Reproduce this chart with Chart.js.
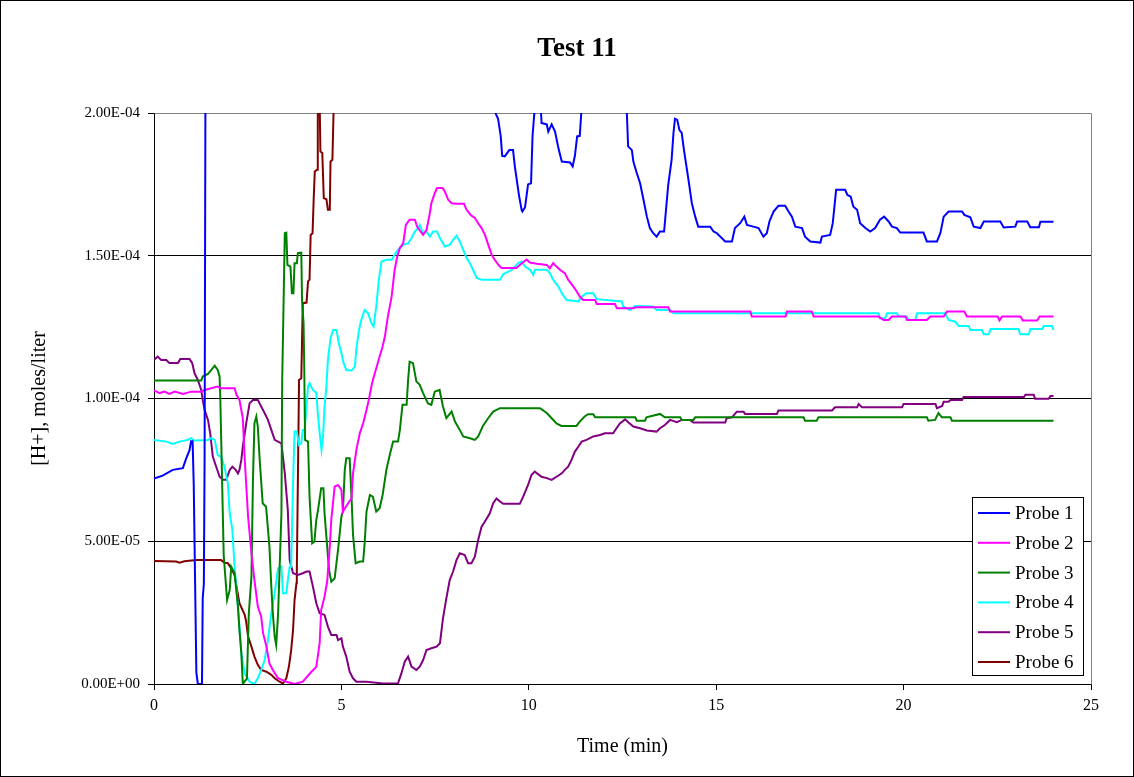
<!DOCTYPE html>
<html>
<head>
<meta charset="utf-8">
<script src="https://cdn.jsdelivr.net/npm/chart.js@4.4.1/dist/chart.umd.min.js"></script>
<style>
  html, body { margin: 0; padding: 0; background: #ffffff; }
  #wrap { width: 1134px; height: 777px; }
</style>
</head>
<body>
<div id="wrap"><canvas id="c" width="1134" height="777"></canvas></div>
<script>
// ---- DATA (time in minutes, [H+] in units of 1e-5 moles/liter) ----
const UNIT = 1e-5;
const seriesNames = ['Probe 1', 'Probe 2', 'Probe 3', 'Probe 4', 'Probe 5', 'Probe 6'];
const xTickLabels = [0, 5, 10, 15, 20, 25];
const yTickValues = [0, 5e-5, 1e-4, 1.5e-4, 2e-4];

const probe1 = [[0,7.2],[0.23,7.3],[0.5,7.5],[0.77,7.56],[0.86,7.9],[0.95,8.2],[0.99,8.5],[1.03,8.5],[1.06,7.0],[1.13,0.4],[1.17,0],[1.28,0],[1.30,3.0],[1.33,3.5],[1.35,8],[1.38,25],[1.40,30],[9.05,21],[9.11,20],
 [9.18,19.8],[9.25,19.2],[9.29,18.5],[9.36,18.48],[9.48,18.7],[9.58,18.7],[9.63,18.1],[9.74,17.1],[9.81,16.6],[9.83,16.55],[9.90,16.7],[9.98,17.5],[10.06,17.54],[10.10,19.2],[10.16,20.2],[10.24,21],[10.32,20.2],
 [10.34,19.65],[10.48,19.6],[10.52,19.35],[10.61,19.6],[10.70,19.35],[10.79,18.77],[10.88,18.3],[11.10,18.27],[11.17,18.13],[11.23,18.5],[11.29,19.18],[11.36,19.2],[11.41,20.2],[11.6,23],[12.4,23],[12.61,20.2],
 [12.65,18.83],[12.75,18.7],[12.79,18.3],[12.88,17.9],[12.97,17.54],[13.06,16.96],[13.15,16.37],[13.23,15.97],[13.32,15.79],[13.41,15.67],[13.50,15.85],[13.61,15.85],[13.66,16.6],[13.72,17.48],[13.81,18.36],
 [13.86,19.3],[13.90,19.8],[13.96,19.76],[14.02,19.4],[14.08,19.3],[14.14,18.7],[14.21,18.1],[14.28,17.48],[14.35,16.84],[14.44,16.37],[14.52,16.02],[14.84,16.02],[14.93,15.85],[15.02,15.79],[15.24,15.5],
 [15.42,15.5],[15.50,15.97],[15.64,16.14],[15.75,16.37],[15.82,16.08],[15.99,16.02],[16.13,15.97],[16.26,15.67],[16.35,15.79],[16.42,16.2],[16.53,16.55],[16.66,16.75],[16.84,16.75],[16.93,16.55],[17.02,16.37],
 [17.11,16.02],[17.29,15.97],[17.37,15.67],[17.51,15.5],[17.78,15.46],[17.82,15.67],[18.04,15.73],[18.11,16.14],[18.20,17.31],[18.44,17.31],[18.50,17.13],[18.59,17.07],[18.66,16.72],[18.76,16.61],[18.84,16.14],
 [18.98,15.97],[19.11,15.85],[19.24,15.97],[19.37,16.26],[19.48,16.37],[19.60,16.2],[19.69,16.02],[19.82,15.97],[19.91,15.81],[20.53,15.81],[20.62,15.5],[20.89,15.5],[20.98,15.79],[21.07,16.37],[21.20,16.55],
 [21.56,16.55],[21.62,16.43],[21.78,16.35],[21.87,16.02],[22.05,15.97],[22.14,16.2],[22.58,16.2],[22.67,15.99],[22.98,16.02],[23.03,16.2],[23.30,16.2],[23.38,16.0],[23.61,16.0],[23.65,16.19],[24.0,16.19]];

const probe2 = [[0,10.28],[0.15,10.19],[0.28,10.24],[0.41,10.16],[0.55,10.24],[0.77,10.16],[0.99,10.24],[1.26,10.24],[1.35,10.3],[1.70,10.42],[1.79,10.36],[2.15,10.36],[2.20,10.13],[2.28,9.95],[2.37,9.3],
 [2.42,7.9],[2.51,5.86],[2.60,4.58],[2.68,3.64],[2.77,2.71],[2.86,2.36],[2.91,1.78],[3.00,1.31],[3.08,0.72],[3.17,0.49],[3.31,0.20],[3.53,0.08],[3.75,0],[3.97,0.08],[4.20,0.43],[4.33,0.6],[4.42,1.43],
 [4.46,2.59],[4.55,3.06],[4.62,3.58],[4.69,4.81],[4.73,5.75],[4.82,6.91],[4.91,6.97],[5.00,6.8],[5.04,6.04],[5.18,6.33],[5.27,6.5],[5.31,7.38],[5.40,8.2],[5.49,8.78],[5.58,9.13],[5.67,9.6],[5.74,10.01],
 [5.80,10.42],[5.84,10.65],[5.93,11.06],[6.02,11.47],[6.10,11.82],[6.16,12.17],[6.24,12.87],[6.34,13.57],[6.42,14.5],[6.49,14.97],[6.56,15.27],[6.65,15.44],[6.72,16.08],[6.82,16.26],[6.96,16.26],[7.02,16.02],
 [7.11,15.85],[7.18,15.73],[7.27,15.9],[7.36,16.49],[7.40,16.84],[7.49,17.19],[7.55,17.37],[7.70,17.37],[7.76,17.25],[7.85,16.96],[7.94,16.84],[8.07,16.82],[8.27,16.82],[8.34,16.61],[8.45,16.43],[8.56,16.32],
 [8.65,16.14],[8.74,15.97],[8.83,15.73],[8.92,15.38],[9.01,15.03],[9.09,14.86],[9.18,14.7],[9.27,14.57],[9.67,14.57],[9.76,14.68],[9.94,14.87],[10.03,14.76],[10.21,14.72],[10.48,14.68],[10.56,14.56],[10.65,14.74],
 [10.74,14.62],[10.83,14.51],[10.96,14.39],[11.05,14.16],[11.19,13.92],[11.28,13.75],[11.36,13.57],[11.45,13.45],[11.77,13.45],[11.81,13.31],[12.30,13.31],[12.35,13.16],[12.79,13.16],[12.88,13.2],[13.72,13.2],
 [13.77,13.05],[15.91,13.05],[15.95,12.87],[16.85,12.87],[16.89,13.05],[17.55,13.05],[17.60,12.87],[19.33,12.87],[19.47,12.75],[19.60,12.75],[19.69,12.87],[20.05,12.87],[20.09,12.75],[20.62,12.75],[20.71,12.87],
 [21.07,12.87],[21.16,13.05],[21.62,13.05],[21.69,12.87],[22.51,12.87],[22.56,12.73],[22.63,12.87],[23.12,12.87],[23.18,12.73],[23.56,12.73],[23.63,12.87],[24.0,12.87]];

const probe3 = [[0,10.63],[1.26,10.63],[1.30,10.77],[1.44,10.86],[1.53,11.0],[1.62,11.15],[1.70,11.0],[1.75,10.77],[1.77,9.95],[1.86,4.5],[1.95,2.94],[2.02,3.29],[2.06,4.11],[2.15,3.88],[2.24,2.71],
 [2.28,1.89],[2.33,1.08],[2.37,0],[2.48,0.2],[2.53,2.48],[2.60,3.76],[2.64,7.15],[2.68,9.13],[2.73,9.37],[2.77,9.02],[2.82,7.85],[2.90,6.33],[2.99,6.21],[3.08,4.81],[3.13,3.41],[3.17,2.48],[3.22,1.66],
 [3.26,1.37],[3.31,2.42],[3.40,5.98],[3.42,10.6],[3.49,15.79],[3.53,15.81],[3.56,14.68],[3.64,14.62],[3.68,13.69],[3.72,13.69],[3.75,14.74],[3.81,14.74],[3.84,15.09],[3.93,15.11],[3.95,13.45],[3.99,12.64],
 [4.01,11],[4.03,8.55],[4.11,8.49],[4.15,6.56],[4.22,4.93],[4.28,4.99],[4.33,5.75],[4.37,6.04],[4.46,6.86],[4.52,6.86],[4.55,5.98],[4.67,3.99],[4.73,3.58],[4.82,3.7],[4.91,4.7],[5.00,5.86],[5.04,6.04],
 [5.09,7.5],[5.13,7.91],[5.22,7.91],[5.27,6.56],[5.31,5.22],[5.38,4.23],[5.49,4.29],[5.58,4.29],[5.62,4.93],[5.67,6.04],[5.76,6.62],[5.84,6.56],[5.93,6.04],[6.02,6.16],[6.10,6.62],[6.20,7.5],[6.29,8.02],
 [6.38,8.49],[6.51,8.49],[6.56,8.9],[6.63,9.78],[6.74,9.78],[6.78,10.65],[6.82,11.29],[6.91,11.24],[7.00,10.6],[7.09,10.48],[7.18,10.19],[7.31,9.83],[7.40,9.78],[7.49,10.24],[7.62,10.3],[7.71,9.72],
 [7.80,9.31],[7.94,9.54],[8.03,9.19],[8.16,8.9],[8.25,8.67],[8.43,8.61],[8.56,8.55],[8.65,8.67],[8.78,9.05],[8.91,9.3],[9.05,9.54],[9.23,9.66],[10.30,9.66],[10.48,9.49],[10.61,9.31],[10.74,9.13],[10.87,9.04],
 [11.27,9.04],[11.36,9.19],[11.49,9.37],[11.58,9.45],[11.72,9.45],[11.77,9.34],[12.84,9.34],[12.88,9.22],[13.10,9.22],[13.14,9.34],[13.50,9.46],[13.63,9.34],[14.04,9.34],[14.08,9.25],[14.39,9.25],[14.44,9.34],
 [17.33,9.34],[17.37,9.22],[17.68,9.22],[17.73,9.34],[20.62,9.34],[20.66,9.22],[20.84,9.25],[20.93,9.49],[21.02,9.34],[21.25,9.34],[21.29,9.22],[24.0,9.22]];

const probe4 = [[0,8.55],[0.33,8.49],[0.50,8.41],[0.68,8.49],[0.90,8.55],[0.99,8.61],[1.08,8.53],[1.44,8.55],[1.53,8.61],[1.62,8.55],[1.70,8.02],[1.79,7.96],[1.88,7.61],[1.97,7.03],[2.02,5.98],[2.09,5.4],
 [2.15,4.11],[2.24,2.71],[2.33,1.08],[2.42,0.37],[2.55,0.08],[2.68,0],[2.77,0.2],[2.86,0.49],[2.95,0.82],[3.04,1.54],[3.13,2.48],[3.22,3.18],[3.31,4.05],[3.40,4.11],[3.44,3.18],[3.53,3.18],[3.57,3.64],
 [3.62,4.11],[3.66,4.11],[3.71,7.03],[3.75,8.84],[3.81,8.84],[3.87,8.37],[3.93,8.43],[3.97,8.9],[4.02,8.9],[4.11,10.42],[4.15,10.54],[4.24,10.3],[4.33,10.2],[4.37,9.49],[4.42,8.78],[4.47,8.2],[4.51,8.67],
 [4.55,9.72],[4.60,10.42],[4.64,11.35],[4.71,12.11],[4.78,12.4],[4.87,12.4],[4.93,11.94],[5.00,11.59],[5.06,11.24],[5.13,11.0],[5.27,10.98],[5.36,11.12],[5.40,11.76],[5.47,12.4],[5.53,12.75],[5.62,13.1],
 [5.71,12.99],[5.80,12.64],[5.86,12.52],[5.93,13.22],[6.00,14.16],[6.07,14.8],[6.20,14.86],[6.34,14.86],[6.42,15.03],[6.51,15.21],[6.65,15.38],[6.78,15.44],[6.87,15.62],[6.96,15.85],[7.05,15.97],[7.09,16.08],
 [7.18,15.79],[7.27,15.85],[7.36,15.67],[7.45,15.85],[7.55,15.85],[7.63,15.62],[7.76,15.32],[7.89,15.38],[7.98,15.56],[8.07,15.7],[8.16,15.5],[8.25,15.21],[8.34,14.92],[8.43,14.74],[8.51,14.51],[8.61,14.22],
 [8.74,14.16],[9.23,14.16],[9.32,14.36],[9.54,14.5],[9.72,14.74],[9.81,14.8],[9.90,14.62],[10.03,14.51],[10.12,14.33],[10.16,14.51],[10.48,14.51],[10.56,14.39],[10.65,14.16],[10.79,13.92],[10.88,13.69],
 [11.01,13.45],[11.32,13.4],[11.41,13.57],[11.54,13.69],[11.72,13.69],[11.81,13.48],[12.48,13.4],[12.52,13.22],[12.70,13.1],[12.83,13.24],[13.32,13.22],[13.41,13.1],[13.77,13.1],[13.86,12.99],[19.33,12.99],
 [19.37,12.81],[19.51,12.81],[19.56,12.99],[19.82,12.99],[19.87,12.87],[20.09,12.87],[20.13,12.75],[20.31,12.75],[20.36,12.99],[21.11,12.99],[21.20,12.75],[21.38,12.69],[21.47,12.54],[21.74,12.54],[21.78,12.4],
 [22.09,12.4],[22.14,12.25],[22.27,12.25],[22.32,12.43],[23.07,12.43],[23.11,12.25],[23.34,12.25],[23.38,12.43],[23.70,12.43],[23.74,12.54],[23.96,12.54],[24.0,12.4]];

const probe5 = [[0,11.35],[0.10,11.47],[0.19,11.35],[0.33,11.35],[0.41,11.24],[0.64,11.24],[0.70,11.38],[0.95,11.38],[1.02,11.24],[1.08,10.89],[1.17,10.65],[1.26,10.3],[1.30,9.95],[1.35,9.6],[1.44,9.25],
 [1.50,8.78],[1.57,7.96],[1.66,7.61],[1.75,7.26],[1.84,7.15],[1.93,7.15],[2.02,7.5],[2.09,7.61],[2.18,7.5],[2.24,7.38],[2.28,7.5],[2.33,7.85],[2.37,8.31],[2.46,9.13],[2.55,9.83],[2.64,9.95],[2.77,9.95],
 [2.86,9.72],[2.95,9.49],[3.04,9.25],[3.13,8.9],[3.22,8.55],[3.31,8.49],[3.40,8.43],[3.49,7.38],[3.57,6.1],[3.62,4.34],[3.71,3.88],[3.84,3.82],[3.97,3.88],[4.07,3.94],[4.15,3.94],[4.24,3.41],[4.33,2.83],
 [4.42,2.48],[4.55,2.42],[4.64,2.01],[4.73,1.72],[4.87,1.72],[4.91,1.54],[5.00,1.6],[5.04,1.31],[5.13,0.96],[5.22,0.43],[5.31,0.2],[5.40,0.08],[5.67,0.08],[6.11,0.02],[6.51,0.02],[6.60,0.37],[6.69,0.78],
 [6.78,0.96],[6.87,0.61],[7.00,0.49],[7.09,0.61],[7.18,0.84],[7.27,1.19],[7.40,1.25],[7.54,1.31],[7.63,1.43],[7.71,2.3],[7.80,3.0],[7.89,3.64],[7.98,3.94],[8.07,4.34],[8.16,4.58],[8.29,4.52],[8.38,4.23],
 [8.47,4.23],[8.56,4.46],[8.65,5.05],[8.74,5.51],[8.83,5.69],[8.96,5.98],[9.05,6.33],[9.14,6.5],[9.23,6.39],[9.32,6.31],[9.76,6.31],[9.85,6.56],[9.98,6.97],[10.07,7.32],[10.16,7.44],[10.34,7.26],[10.48,7.21],
 [10.61,7.15],[10.74,7.26],[10.88,7.38],[10.96,7.5],[11.05,7.61],[11.14,7.85],[11.23,8.14],[11.32,8.31],[11.41,8.49],[11.54,8.55],[11.72,8.67],[11.90,8.72],[12.03,8.78],[12.25,8.78],[12.34,8.96],[12.43,9.13],
 [12.57,9.27],[12.66,9.16],[12.79,9.02],[12.97,8.96],[13.15,8.88],[13.41,8.84],[13.50,8.96],[13.63,9.07],[13.77,9.25],[13.95,9.17],[14.08,9.25],[14.30,9.25],[14.39,9.16],[15.24,9.16],[15.28,9.31],[15.42,9.34],
 [15.55,9.54],[15.73,9.54],[15.77,9.46],[16.62,9.46],[16.66,9.58],[18.09,9.58],[18.17,9.69],[18.76,9.69],[18.80,9.81],[18.89,9.69],[19.96,9.69],[20.00,9.81],[20.85,9.81],[20.89,9.66],[21.03,9.74],[21.07,9.89],
 [21.20,9.89],[21.25,9.95],[21.56,9.95],[21.60,10.05],[23.21,10.05],[23.25,10.13],[23.47,10.13],[23.51,9.99],[23.87,9.99],[23.92,10.09],[24.0,10.09]];

const probe6 = [[0,4.31],[0.59,4.29],[0.68,4.25],[0.81,4.3],[1.13,4.34],[1.79,4.34],[1.88,4.25],[1.97,4.23],[2.06,4.05],[2.15,3.82],[2.21,3.35],[2.28,2.83],[2.42,2.42],[2.46,2.18],[2.51,1.66],[2.60,1.31],
 [2.68,0.96],[2.77,0.67],[2.86,0.49],[3.00,0.43],[3.13,0.32],[3.22,0.2],[3.35,0.08],[3.44,0.02],[3.53,0.2],[3.60,0.61],[3.66,1.19],[3.71,1.89],[3.75,2.94],[3.80,3.53],[3.81,3.88],[3.87,10.65],[3.93,10.71],
 [3.97,13.34],[4.07,13.36],[4.11,14.1],[4.15,14.16],[4.18,15.73],[4.23,15.79],[4.26,16.96],[4.29,17.95],[4.35,18.01],[4.37,20],[4.40,22],[4.44,18.65],[4.49,18.6],[4.53,17.02],[4.60,16.98],[4.64,16.61],
 [4.69,16.61],[4.71,18.3],[4.76,18.36],[4.79,20],[4.85,30]];

const seriesData = [probe1, probe2, probe3, probe4, probe5, probe6];
const seriesColors = ['#0000FF', '#FF00FF', '#008000', '#00FFFF', '#800080', '#800000'];

// ---- helpers ----
function sci(v) {
  if (Math.abs(v) < 1e-12) return '0.00E+00';
  let e = Math.floor(Math.log10(Math.abs(v)) + 1e-9);
  let m = v / Math.pow(10, e);
  if (Math.round(m * 100) / 100 >= 10) { m /= 10; e++; }
  return m.toFixed(2) + 'E' + (e < 0 ? '-' : '+') + String(Math.abs(e)).padStart(2, '0');
}

const FONT = "'Liberation Serif', 'Times New Roman', serif";

const frame = {
  id: 'frame',
  beforeDatasetsDraw(chart) {
    const { ctx, chartArea: a } = chart;
    ctx.save();
    ctx.strokeStyle = '#808080';
    ctx.lineWidth = 1;
    ctx.beginPath();
    ctx.moveTo(Math.round(a.left) + 0.5, Math.round(a.top) + 0.5);
    ctx.lineTo(Math.round(a.right) + 0.5, Math.round(a.top) + 0.5);
    ctx.lineTo(Math.round(a.right) + 0.5, Math.round(a.bottom) + 0.5);
    ctx.stroke();
    ctx.restore();
  },
  afterDraw(chart) {
    const { ctx } = chart;
    ctx.save();
    ctx.strokeStyle = '#000000';
    ctx.lineWidth = 1;
    ctx.strokeRect(0.5, 0.5, chart.width - 1, chart.height - 1);
    // legend
    const bx = 972.5, by = 497.5, bw = 111, bh = 178;
    ctx.fillStyle = '#ffffff';
    ctx.fillRect(bx, by, bw, bh);
    ctx.strokeRect(bx, by, bw, bh);
    ctx.font = '19px ' + FONT;
    ctx.textBaseline = 'middle';
    ctx.textAlign = 'left';
    chart.data.datasets.forEach((ds, i) => {
      if (!ds.label) return;
      const y = 513 + i * 29.8;
      ctx.strokeStyle = ds.borderColor;
      ctx.lineWidth = 2;
      ctx.beginPath();
      ctx.moveTo(978, y);
      ctx.lineTo(1010, y);
      ctx.stroke();
      ctx.fillStyle = '#000000';
      ctx.fillText(ds.label, 1015, y + 1);
    });
    ctx.restore();
  }
};

new Chart(document.getElementById('c'), {
  type: 'line',
  data: {
    datasets: seriesNames.map((name, i) => ({
      label: name,
      data: seriesData[i].map(p => ({ x: p[0], y: p[1] * UNIT })),
      borderColor: seriesColors[i],
      backgroundColor: seriesColors[i],
      borderWidth: 2,
      pointRadius: 0,
      tension: 0,
      fill: false,
      yAxisID: 'y'
    }))
  },
  options: {
    responsive: false,
    animation: false,
    devicePixelRatio: 1,
    layout: { padding: { left: 20, right: 0, top: 0, bottom: 10 } },
    plugins: {
      legend: { display: false },
      tooltip: { enabled: false },
      title: {
        display: true,
        text: 'Test 11',
        color: '#000000',
        font: { family: FONT, size: 27, weight: 'bold', lineHeight: 1.2 },
        padding: { top: 33, bottom: 47.6 }
      }
    },
    scales: {
      x: {
        type: 'linear',
        min: 0, max: 25,
        afterFit(scale) { scale.height = 83; },
        afterBuildTicks(scale) { scale.ticks = xTickLabels.map(v => ({ value: v })); },
        ticks: { color: '#000000', font: { family: FONT, size: 16 }, padding: 6, maxRotation: 0, autoSkip: false },
        grid: { drawOnChartArea: false, drawTicks: true, tickLength: 6, color: '#000000', tickColor: '#000000' },
        border: { display: true, color: '#000000', width: 1 },
        title: { display: true, text: 'Time (min)', color: '#000000', font: { family: FONT, size: 20 }, padding: { top: 0, bottom: 8 } }
      },
      y: {
        type: 'linear',
        position: 'left',
        min: 0, max: 2e-4,
        afterFit(scale) { scale.width = 134; },
        afterBuildTicks(scale) { scale.ticks = yTickValues.map(v => ({ value: v })); },
        ticks: { color: '#000000', font: { family: FONT, size: 15 }, padding: 8, callback: v => sci(v) },
        grid: { drawOnChartArea: true, drawTicks: true, tickLength: 6, color: '#000000', tickColor: '#000000' },
        border: { display: true, color: '#000000', width: 1 },
        title: { display: true, text: '[H+], moles/liter', color: '#000000', font: { family: FONT, size: 20 }, padding: { top: 8, bottom: 0 } }
      },
      yRight: {
        type: 'linear',
        position: 'right',
        min: 0, max: 2e-4,
        afterFit(scale) { scale.width = 43; },
        ticks: { display: false },
        grid: { display: false, drawOnChartArea: false },
        border: { display: false }
      }
    }
  },
  plugins: [frame]
});
</script>
</body>
</html>
